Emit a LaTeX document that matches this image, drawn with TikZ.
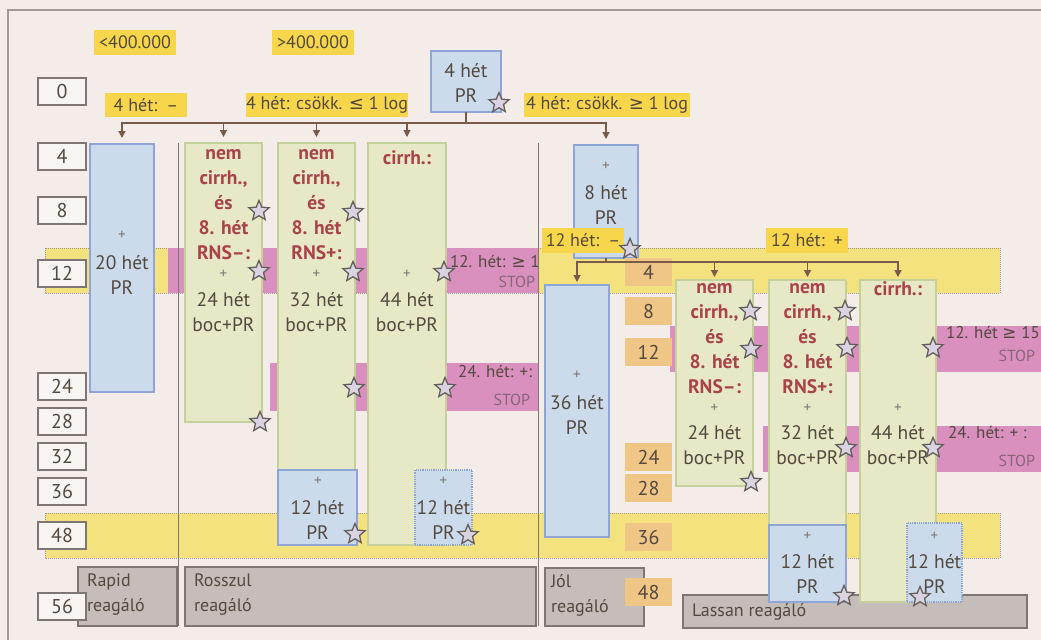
\documentclass[tikz,border=0pt]{standalone}
\usepackage{fontspec}
\setmainfont{PT Sans}
\newfontfamily\symfont{DejaVu Sans}
\usetikzlibrary{arrows.meta, shapes.geometric}
\definecolor{Hatter}{HTML}{F4ECE8}
\definecolor{Keret}{HTML}{A39A96}
\definecolor{Szoveg}{HTML}{54493F}
\definecolor{Piros}{HTML}{A9434B}
\definecolor{Sarga}{HTML}{F7D64B}
\definecolor{SavSarga}{HTML}{F4E27E}
\definecolor{Rozsa}{HTML}{DA90BE}
\definecolor{KekT}{HTML}{CBDBEC}
\definecolor{KekK}{HTML}{8FA5D6}
\definecolor{ZoldT}{HTML}{E6E8C6}
\definecolor{ZoldK}{HTML}{C5D19A}
\definecolor{Szurke}{HTML}{C5BDB9}
\definecolor{SzurkeK}{HTML}{7E7672}
\definecolor{Narancs}{HTML}{F0C686}
\definecolor{Nyil}{HTML}{7A5A48}
\definecolor{Csillag}{HTML}{DAD4E2}
\definecolor{Stop}{HTML}{8A6478}

\begin{document}
\begin{tikzpicture}[x=1pt, y=-1pt,
  every node/.style={font=\fontsize{19.5}{25}\selectfont, text=Szoveg, inner sep=0pt, outer sep=0pt},
  meret/.style 2 args={minimum width=#1pt, minimum height=#2pt, anchor=north west},
  kek/.style={draw=KekK, fill=KekT, line width=1.2pt},
  kekpont/.style={kek, densely dotted},
  zold/.style={draw=ZoldK, fill=ZoldT, line width=1.2pt},
  sarga/.style={fill=Sarga, font=\fontsize{18}{22}\selectfont},
  sav/.style={fill=SavSarga, draw=Keret, densely dotted, line width=1pt},
  rozsa/.style={fill=Rozsa},
  rtext/.style={font=\fontsize{17}{20}\selectfont},
  szurke/.style={fill=Szurke, draw=SzurkeK, line width=1.2pt},
  csoport/.style={align=left, font=\fontsize{18}{25}\selectfont},
  sor/.style={fill=Hatter!60!white, draw=SzurkeK, line width=1.2pt, font=\fontsize{20}{22}\selectfont},
  narancs/.style={fill=Narancs, font=\fontsize{20}{22}\selectfont},
  szoveg/.style={align=center},
  piros/.style={align=center, text=Piros, font=\fontsize{19.5}{25}\selectfont\bfseries},
  plusz/.style={font=\fontsize{15}{15}\selectfont, text=SzurkeK},
  stop/.style={text=Stop, font=\fontsize{16}{20}\selectfont},
  vonal/.style={draw=Nyil, line width=1.3pt},
  nyil/.style={vonal, -{Triangle[length=7pt, width=7pt]}},
  elvalaszto/.style={draw=SzurkeK, line width=1pt},
  csillag/.style={star, star points=5, star point ratio=2.2, minimum size=21pt,
    draw=SzurkeK!80!black, fill=Csillag, line width=1.3pt}]

  \useasboundingbox (0,0) rectangle (1041,640);
  \fill[Hatter] (0,0) rectangle (1041,640);
  \draw[Keret, line width=1.2pt] (8,640) -- (8,10) -- (1041,10);

  % savok
  \draw[sav] (45,248) rectangle (1000,293);
  \draw[sav] (45,513) rectangle (1000,558);
  \fill[rozsa] (168,248) rectangle (538,293);
  \fill[rozsa] (270,363) rectangle (538,411);
  \fill[rozsa] (670,326) rectangle (1041,372);
  \fill[rozsa] (763,426) rectangle (1041,472);

  \node[rtext, anchor=base west] (r1) at (450,267) {12. hét: {\symfont ≥} 1};
  \node[stop, anchor=base east] (r1s) at (535,287) {STOP};
  \node[rtext, anchor=base east] (r2) at (532,377) {24. hét: +:};
  \node[stop, anchor=base east] (r2s) at (530,405) {STOP};
  \node[rtext, anchor=base west] (r3) at (946,338) {12. hét {\symfont ≥} 15};
  \node[stop, anchor=base east] (r3s) at (1035,361) {STOP};
  \node[rtext, anchor=base west] (r4) at (948,438) {24. hét: + :};
  \node[stop, anchor=base east] (r4s) at (1035,466) {STOP};

  % elvalasztok
  \draw[elvalaszto] (178,143) -- (178,626);
  \draw[elvalaszto] (538,143) -- (538,626);

  % csoportok
  \node[szurke, meret={99}{59}] (g1) at (78,567) {};
  \node[szurke, meret={351}{59}] (g2) at (185,567) {};
  \node[szurke, meret={99}{58}] (g3) at (545,568) {};
  \node[szurke, meret={344}{33}] (g4) at (683,595) {};
  \node[csoport, anchor=north west] (g1t) at ([xshift=9pt, yshift=-7pt]g1.north west) {Rapid\\reagáló};
  \node[csoport, anchor=north west] (g2t) at ([xshift=9pt, yshift=-7pt]g2.north west) {Rosszul\\reagáló};
  \node[csoport, anchor=north west] (g3t) at ([xshift=6pt, yshift=-7pt]g3.north west) {Jól\\reagáló};
  \node[csoport, anchor=west] (g4t) at ([xshift=9pt]g4.west) {Lassan reagáló};

  % kezelesek
  \node[kek, meret={70}{61}] (pr4) at (431,51) {};
  \node[kek, meret={64}{248}] (pr20) at (90,144) {};
  \node[zold, meret={77}{279}] (kA) at (185,143) {};
  \node[zold, meret={77}{327}] (kB) at (278,143) {};
  \node[kek, meret={79}{75}] (prB) at (278,470) {};
  \node[zold, meret={78}{402}] (kC) at (368,143) {};
  \node[kekpont, meret={57}{75}] (prC) at (415,470) {};
  \node[kek, meret={64}{113}] (pr8) at (574,145) {};
  \node[kek, meret={64}{252}] (pr36) at (545,285) {};
  \node[zold, meret={77}{206}] (kD) at (676,280) {};
  \node[zold, meret={77}{245}] (kE) at (769,280) {};
  \node[kek, meret={77}{77}] (prE) at (769,525) {};
  \node[zold, meret={76}{322}] (kF) at (860,280) {};
  \node[kekpont, meret={55}{79}] (prF) at (907,523) {};

  \node[szoveg] (t4) at (pr4.north |- 0,82.5) {4 hét\\PR};
  \node[szoveg] (t20) at (pr20.north |- 0,274.5) {20 hét\\PR};
  \node[piros] (tA) at (kA.north |- 0,205) {nem\\cirrh.,\\és\\8. hét\\RNS–:};
  \node[szoveg] (tA2) at (kA.north |- 0,312) {24 hét\\boc+PR};
  \node[piros] (tB) at (kB.north |- 0,205) {nem\\cirrh.,\\és\\8. hét\\RNS+:};
  \node[szoveg] (tB2) at (kB.north |- 0,312) {32 hét\\boc+PR};
  \node[piros] (tC) at (kC.north |- 0,157.5) {cirrh.:};
  \node[szoveg] (tC2) at (kC.north |- 0,312) {44 hét\\boc+PR};
  \node[szoveg] (tB3) at (prB.north |- 0,520) {12 hét\\PR};
  \node[szoveg] (tC3) at (prC.north |- 0,520) {12 hét\\PR};
  \node[szoveg] (t8) at (pr8.north |- 0,205) {8 hét\\PR};
  \node[szoveg] (t36) at (pr36.north |- 0,414.5) {36 hét\\PR};
  \node[piros] (tD) at (kD.north |- 0,339) {nem\\cirrh.,\\és\\8. hét\\RNS–:};
  \node[szoveg] (tD2) at (kD.north |- 0,445.5) {24 hét\\boc+PR};
  \node[piros] (tE) at (kE.north |- 0,339) {nem\\cirrh.,\\és\\8. hét\\RNS+:};
  \node[szoveg] (tE2) at (kE.north |- 0,445.5) {32 hét\\boc+PR};
  \node[piros] (tF) at (kF.north |- 0,288.5) {cirrh.:};
  \node[szoveg] (tF2) at (kF.north |- 0,445.5) {44 hét\\boc+PR};
  \node[szoveg] (tE3) at (prE.north |- 0,574) {12 hét\\PR};
  \node[szoveg] (tF3) at (prF.north |- 0,574) {12 hét\\PR};

  \foreach \x/\y [count=\i] in {122/235, 223.5/274, 316.5/274, 407/274, 318/481, 443.5/481,
      606/166, 577/375, 714.5/408, 807.5/408, 898/408, 807.5/536, 934.5/536}
    \node[plusz] (p\i) at (\x,\y) {+};

  % het cimkek
  \foreach \nev/\y in {0/78, 4/143, 8/197, 12/260, 24/373, 28/408, 32/443, 36/478, 48/522, 56/593}
    \node[sor, meret={48}{27}] (s\nev) at (38,\y) {\nev};
  \foreach \nev/\y in {4/258, 8/297, 12/338, 24/443, 28/474, 36/523, 48/578}
    \node[narancs, meret={47}{28}] (n\nev) at (625,\y) {\nev};

  % feltetelek
  \node[sarga, meret={82}{25}] (l1) at (94,30) {<400.000};
  \node[sarga, meret={82}{25}] (l2) at (272,30) {>400.000};
  \node[sarga, meret={82}{24}] (l3) at (105,93) {4 hét:\enspace –};
  \node[sarga, meret={162}{24}] (l4) at (246,93) {4 hét: csökk. {\symfont ≤} 1 log};
  \node[sarga, meret={166}{24}] (l5) at (524,93) {4 hét: csökk. {\symfont ≥} 1 log};
  \node[sarga, meret={82}{25}] (l6) at (542,228) {12 hét:\enspace –};
  \node[sarga, meret={82}{25}] (l7) at (766,228) {12 hét:\enspace +};

  % elagazasok
  \coordinate (ag1) at (pr4.south |- 0,123);
  \draw[vonal] (pr4.south) -- (ag1);
  \foreach \cel in {pr20, kA, kB, kC, pr8}
    \draw[nyil, shorten >=6pt] (ag1) -| (\cel.north);
  \coordinate (ag2) at (pr8.south |- 0,262);
  \draw[vonal] (pr8.south) -- (ag2);
  \foreach \cel in {pr36, kD, kE, kF}
    \draw[nyil, shorten >=3pt] (ag2) -| (\cel.north);

  % csillagok
  \foreach \x/\y [count=\i] in {499/103, 259/211, 259/271, 260/422, 353/212, 353/272, 354/388,
      355/534, 444/272, 445/388, 468/535, 630/249, 750/311, 751/349, 751/482, 845/311,
      847/348, 846/448, 844/596, 933/348, 933/448, 920/597}
    \node[csillag] (cs\i) at (\x,\y) {};
\end{tikzpicture}
\end{document}
